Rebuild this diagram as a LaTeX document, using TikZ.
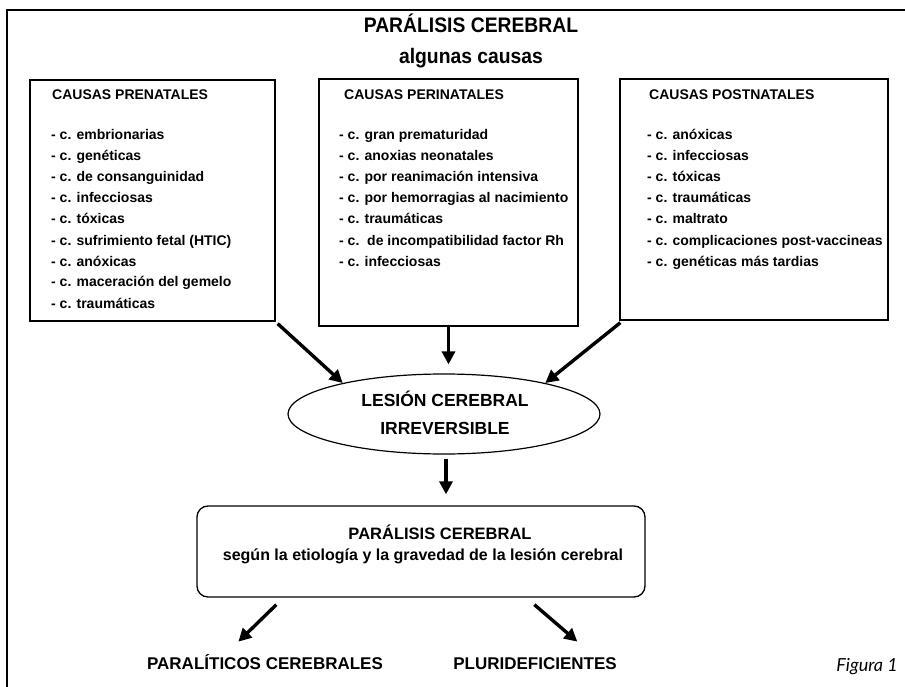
\documentclass[tikz,border=0pt]{standalone}
\usepackage{fontspec}
\setmainfont{Liberation Sans}
\newfontfamily\narrowfont[FakeStretch=0.92]{Liberation Sans}
\newfontfamily\figfont{Lato}
\usetikzlibrary{shapes.geometric,arrows.meta,calc}
\begin{document}
\begin{tikzpicture}[x=1pt,y=-1pt,
  box/.style={draw, line width=1.3pt, inner sep=0pt},
  item/.style={anchor=base west, inner sep=0pt, font=\bfseries\fontsize{14}{16}\selectfont},
  lbl/.style={anchor=base, inner sep=0pt},
  arr/.style={line width=3.4pt, -{Triangle[length=13pt,width=13pt]}},
  frame/.style={line width=2pt}
]
\useasboundingbox (0,0) rectangle (905,687);
\draw[frame] (905,10) -- (7,10) -- (7,687);

% titles
\node[lbl, font=\narrowfont\bfseries\fontsize{21}{24}\selectfont] (title) at (471,33) {PARÁLISIS CEREBRAL};
\node[lbl, font=\narrowfont\bfseries\fontsize{21}{24}\selectfont] (subtitle) at (471,64) {algunas causas};

% boxes
\node[box, minimum width=245pt, minimum height=241pt] (prebox) at (152.5,200.5) {};
\node[box, minimum width=259pt, minimum height=247pt] (peribox) at (448.5,202.5) {};
\node[box, minimum width=268pt, minimum height=241pt] (postbox) at (754,199.5) {};

\node[item] (prehead) at (52,100) {CAUSAS PRENATALES};
\foreach [count=\i from 0] \t in {- c. embrionarias, - c. genéticas, - c. de consanguinidad, - c. infecciosas, - c. tóxicas, - c. sufrimiento fetal (HTIC), - c. anóxicas, - c. maceración del gemelo, - c. traumáticas}
  \node[item] (pre\i) at (51,140+21*\i) {\t};

\node[item] (perihead) at (344,100) {CAUSAS PERINATALES};
\foreach [count=\i from 0] \t in {- c. gran prematuridad, - c. anoxias neonatales, - c. por reanimación intensiva, - c. por hemorragias al nacimiento, - c. traumáticas, - c.\ \ de incompatibilidad factor Rh, - c. infecciosas}
  \node[item] (peri\i) at (339,140+21*\i) {\t};

\node[item] (posthead) at (649,100) {CAUSAS POSTNATALES};
\foreach [count=\i from 0] \t in {- c. anóxicas, - c. infecciosas, - c. tóxicas, - c. traumáticas, - c. maltrato, - c. complicaciones post-vaccineas, - c. genéticas más tardias}
  \node[item] (post\i) at (647,140+21*\i) {\t};

% ellipse
\node[draw, ellipse, line width=1.2pt, minimum width=312pt, minimum height=80pt, inner sep=0pt] (lesion) at (444,414) {};
\node[lbl, font=\bfseries\fontsize{17.5}{20}\selectfont] (les1) at (445,406) {LESIÓN CEREBRAL};
\node[lbl, font=\bfseries\fontsize{17.5}{20}\selectfont] (les2) at (445,434) {IRREVERSIBLE};

\draw[arr] ($(prebox.south east)+(2,2)$) -- (lesion.163);
\draw[arr] ($(postbox.south west)+(1,2)$) -- (lesion.17);
\draw[arr] (peribox.south) -- ($(lesion.north -| peribox.south)+(0,-9)$);

% lower box
\node[draw, line width=1.3pt, rounded corners=11pt, minimum width=448pt, minimum height=91pt, inner sep=0pt] (lowbox) at (421,551.5) {};
\node[lbl, font=\bfseries\fontsize{16.5}{20}\selectfont] (low1) at (440,539) {PARÁLISIS CEREBRAL};
\node[lbl, font=\bfseries\fontsize{16}{20}\selectfont] (low2) at (423,560) {según la etiología y la gravedad de la lesión cerebral};

\draw[arr] ($(lesion.south)+(2,4)$) -- ($(lesion.south |- lowbox.north)+(2,-11)$);

% bottom labels
\node[lbl, font=\bfseries\fontsize{17}{20}\selectfont] (paral) at (265,669) {PARALÍTICOS CEREBRALES};
\node[lbl, font=\bfseries\fontsize{17}{20}\selectfont] (pluri) at (535,669) {PLURIDEFICIENTES};
\node[anchor=base east, inner sep=0pt, font=\figfont\itshape\fontsize{18}{20}\selectfont] (fig) at (898,671) {Figura 1};

\draw[arr] ($(lowbox.south west)+(80,7)$) -- ($(lowbox.south west)+(42,44)$);
\draw[arr] ($(lowbox.south west)+(338,7)$) -- ($(lowbox.south west)+(381,44)$);
\end{tikzpicture}
\end{document}
